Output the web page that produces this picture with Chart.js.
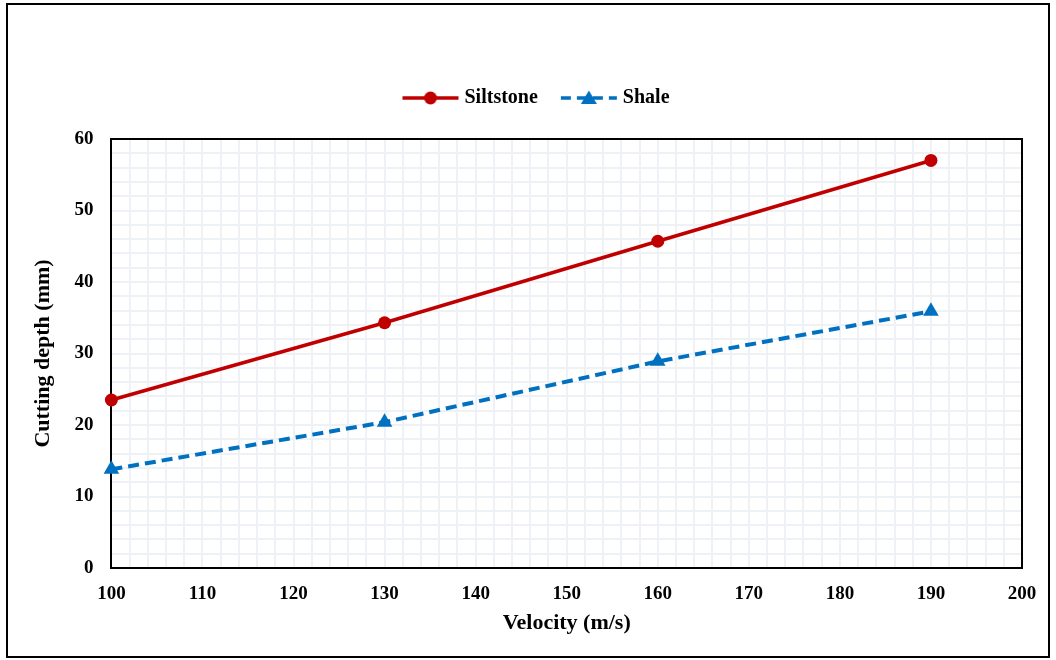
<!DOCTYPE html>
<html>
<head>
<meta charset="utf-8">
<script src="https://cdn.jsdelivr.net/npm/chart.js@4.4.1/dist/chart.umd.min.js"></script>
<style>
	html, body { margin: 0; padding: 0; background: #fff; }
	#wrap { position: relative; width: 1056px; height: 660px; }
	#frame { position: absolute; left: 6px; top: 3px; width: 1044px; height: 655px; border: 2px solid #000; box-sizing: border-box; pointer-events: none; }
	#chart { position: absolute; left: 0; top: 0; }
</style>
</head>
<body>
<div id="wrap">
	<canvas id="chart" width="1056" height="660"></canvas>
	<div id="frame"></div>
</div>
<script>
// velocity (m/s) vs cutting depth (mm)
var velocity  = [100, 130, 160, 190];
var siltstone = [23.5, 34.3, 45.7, 57.0];
var shale     = [13.8, 20.4, 28.9, 35.9];

var xTicks = [100, 110, 120, 130, 140, 150, 160, 170, 180, 190, 200];
var yTicks = [0, 10, 20, 30, 40, 50, 60];
var minorStep = 2;

var RED  = '#C00000',
	BLUE = '#0070C0',
	FONT = '"Times New Roman", "Liberation Serif", serif';

function pairs( xs, ys ){
	var out = [];
	for( var i = 0; i < xs.length; i++ ) out.push( { x: xs[ i ], y: ys[ i ] } );
	return out;
}

function minorTicks( lo, hi ){
	var out = [];
	for( var v = lo; v <= hi; v += minorStep ) out.push( { value: v } );
	return out;
}

// little line + marker swatch for the legend (a bit wider than the legend box)
function swatch( color, dashed, shape ){
	var c = document.createElement( 'canvas' );
	c.width = 58; c.height = 18;
	var g = c.getContext( '2d' );
	g.strokeStyle = color;
	g.fillStyle = color;
	g.lineWidth = 3.5;
	if( dashed ) g.setLineDash( [ 10, 6 ] );
	g.beginPath(); g.moveTo( 1, 9 ); g.lineTo( 57, 9 ); g.stroke();
	g.setLineDash( [] );
	g.beginPath();
	if( shape == 'circle' ){
		g.arc( 29, 9, 6.5, 0, Math.PI * 2 );
	}else{
		g.moveTo( 29, 1.5 ); g.lineTo( 37, 15 ); g.lineTo( 21, 15 ); g.closePath();
	}
	g.fill();
	return c;
}

var swatches = [ swatch( RED, false, 'circle' ), swatch( BLUE, true, 'triangle' ) ];

// nudge the legend a little to the right of the canvas centre
var legendShift = {
	id: 'legendShift',
	afterLayout: function( chart ){
		if( chart.legend ){
			chart.legend.left  += 12;
			chart.legend.right += 12;
		}
	}
};

var tickFont  = { family: FONT, size: 19, weight: 'bold' },
	titleFont = { family: FONT, size: 22, weight: 'bold' };

new Chart( document.getElementById( 'chart' ).getContext( '2d' ), {
	type: 'scatter',
	plugins: [ legendShift ],
	data: {
		datasets: [
			{
				label: 'Siltstone',
				data: pairs( velocity, siltstone ),
				showLine: true,
				clip: false,
				borderColor: RED,
				backgroundColor: RED,
				borderWidth: 3.5,
				pointStyle: 'circle',
				pointRadius: 6.5,
				pointHoverRadius: 6.5,
				pointBorderWidth: 0
			},
			{
				label: 'Shale',
				data: pairs( velocity, shale ),
				showLine: true,
				clip: false,
				borderColor: BLUE,
				backgroundColor: BLUE,
				borderWidth: 4,
				borderDash: [ 11, 6 ],
				pointStyle: 'triangle',
				pointRadius: 9,
				pointHoverRadius: 9,
				pointBorderWidth: 0
			}
		]
	},
	options: {
		responsive: false,
		animation: false,
		layout: { padding: { left: 30, right: 34, top: 61, bottom: 23 } },
		plugins: {
			tooltip: { enabled: false },
			legend: {
				position: 'top',
				labels: {
					usePointStyle: true,
					pointStyleWidth: 48,
					padding: 27,
					color: '#000',
					font: { family: FONT, size: 20, weight: 'bold' },
					generateLabels: function( chart ){
						return chart.data.datasets.map( function( ds, i ){
							return { text: ds.label, pointStyle: swatches[ i ], datasetIndex: i, fontColor: '#000', lineWidth: 0, strokeStyle: 'transparent', fillStyle: 'transparent', hidden: false };
						} );
					}
				}
			}
		},
		scales: {
			x: {
				type: 'linear', position: 'bottom', min: 100, max: 200,
				afterBuildTicks: function( s ){ s.ticks = xTicks.map( function( v ){ return { value: v }; } ); },
				afterFit: function( s ){ s.height = 69; },
				ticks: { color: '#000', font: tickFont, padding: 15 },
				grid: { color: '#dbe0e8', lineWidth: 2, drawTicks: false },
				border: { color: '#000', width: 2 },
				title: { display: true, text: 'Velocity (m/s)', color: '#000', font: titleFont, padding: { top: 0, bottom: 0 } }
			},
			y: {
				type: 'linear', position: 'left', min: 0, max: 60,
				afterBuildTicks: function( s ){ s.ticks = yTicks.map( function( v ){ return { value: v }; } ); },
				ticks: { color: '#000', font: tickFont, padding: 18 },
				grid: { color: '#dbe0e8', lineWidth: 2, drawTicks: false },
				border: { color: '#000', width: 2 },
				title: { display: true, text: 'Cutting depth (mm)', color: '#000', font: titleFont, padding: { top: 0, bottom: 0 } }
			},
			// minor grid, plus the top/right edges of the plot box
			xMinor: {
				type: 'linear', position: 'top', min: 100, max: 200,
				afterBuildTicks: function( s ){ s.ticks = minorTicks( 100, 200 ); },
				afterFit: function( s ){ s.height = 21; },
				ticks: { display: false },
				grid: { color: '#eef1f5', lineWidth: 2, drawTicks: false, z: -1 },
				border: { color: '#000', width: 2 }
			},
			yMinor: {
				type: 'linear', position: 'right', min: 0, max: 60,
				afterBuildTicks: function( s ){ s.ticks = minorTicks( 0, 60 ); },
				ticks: { display: false },
				grid: { color: '#eef1f5', lineWidth: 2, drawTicks: false, z: -1 },
				border: { color: '#000', width: 2 }
			}
		}
	}
} );
</script>
</body>
</html>
